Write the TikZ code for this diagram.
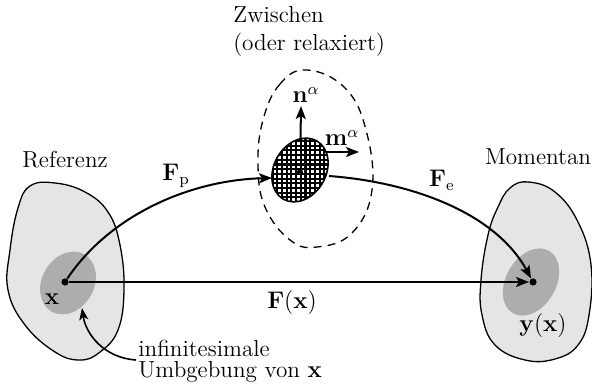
\documentclass[tikz,border=0pt]{standalone}
\usetikzlibrary{arrows.meta}
\begin{document}
\begin{tikzpicture}[x=0.5pt,y=-0.5pt,
  font=\fontsize{11.6}{13.6}\selectfont,
  body/.style={draw=black,line width=0.65pt,fill=black!10},
  core/.style={fill=black!32},
  arr/.style={line width=1pt,-{Stealth[length=6.5pt,width=5pt,inset=1.5pt]}},
  thinarr/.style={line width=0.8pt,-{Stealth[length=6pt,width=4.5pt,inset=1.5pt]}},
  dotnode/.style={circle,fill=black,inner sep=0pt,minimum size=3.6pt},
  lbl/.style={inner sep=1pt}]
\useasboundingbox (0,0) rectangle (592,384);
% left body
\draw[body] plot[smooth cycle,tension=0.7] coordinates{(30,186) (55,183) (85,192) (108,212) (120,245) (124,290) (118,330) (100,352) (80,360) (55,352) (25,325) (8,290) (10,250) (18,208)};
\fill[core,rotate around={-30:(68,283)}] (68,283) ellipse[x radius=13pt,y radius=16.5pt];
% right body
\draw[body] plot[smooth cycle,tension=0.7] coordinates{(498,207) (510,188) (528,182) (555,192) (578,222) (591,265) (589,315) (578,345) (555,359) (525,360) (495,345) (482,315) (481,280) (488,235)};
\fill[core,rotate around={-30:(531,282)}] (531,282) ellipse[x radius=12.5pt,y radius=18pt];
% intermediate (dashed)
\draw[line width=0.65pt,dash pattern=on 4pt off 3pt] plot[smooth cycle,tension=0.7] coordinates{(307,70) (280,84) (263,120) (258,165) (265,207) (290,240) (317,247) (352,233) (372,190) (366,130) (345,88)};
% dots
\node[dotnode] (x) at (65,282) {};
\node[dotnode] (y) at (533,282) {};
\coordinate (c) at (300,172);
\coordinate (nt) at (301,106);
\coordinate (ms) at (300,152);
\coordinate (mt) at (359,152);
\coordinate (hl) at (272,178);
\coordinate (hr) at (329,176);
% slip vectors
\draw[arr] (c) -- (nt);
\draw[arr] (ms) -- (mt);
% hatched region
\begin{scope}
  \clip[rotate around={-30:(300,170)}] (300,170) ellipse[x radius=13pt,y radius=16.8pt];
  \fill[white] (260,130) rectangle (340,210);
  \draw[line width=1.05pt,step=2.35pt] (260,130) grid (340,210);
\end{scope}
\draw[line width=0.8pt,rotate around={-30:(300,170)}] (300,170) ellipse[x radius=13pt,y radius=16.8pt];
\node[dotnode,minimum size=3pt] (cd) at (c) {};
% mappings
\draw[arr] (x) -- (y);
\draw[arr] (x) .. controls (110,215) and (190,180) .. (hl);
\draw[arr] (hr) .. controls (410,182) and (495,212) .. (y);
% labels
\node[lbl,anchor=west] (zw) at (231,31) {\begin{tabular}{@{}l@{}}Zwischen\\[0.2pt](oder relaxiert)\end{tabular}};
\node[lbl] (ref) at (65,160) {Referenz};
\node[lbl] (mom) at (538,157) {Momentan};
\node[lbl] (fp) at (176,176) {$\mathbf{F}_\mathrm{p}$};
\node[lbl] (fe) at (442,180) {$\mathbf{F}_\mathrm{e}$};
\node[lbl] (fx) at (292,302) {$\mathbf{F}(\mathbf{x})$};
\node[lbl] (xl) at (52,299) {$\mathbf{x}$};
\node[lbl] (yl) at (543,325) {$\mathbf{y}(\mathbf{x})$};
\node[lbl] (nl) at (306,95) {$\mathbf{n}^\alpha$};
\node[lbl] (ml) at (342,138) {$\mathbf{m}^\alpha$};
\node[lbl,anchor=north west,align=left,font=\fontsize{11.6}{10.5}\selectfont] (inf) at (136,338) {infinitesimale\\Umbgebung von $\mathbf{x}$};
\coordinate (ts) at (136,360);
\draw[thinarr] (ts) .. controls (105,358) and (86,335) .. (82,308);
\end{tikzpicture}
\end{document}
